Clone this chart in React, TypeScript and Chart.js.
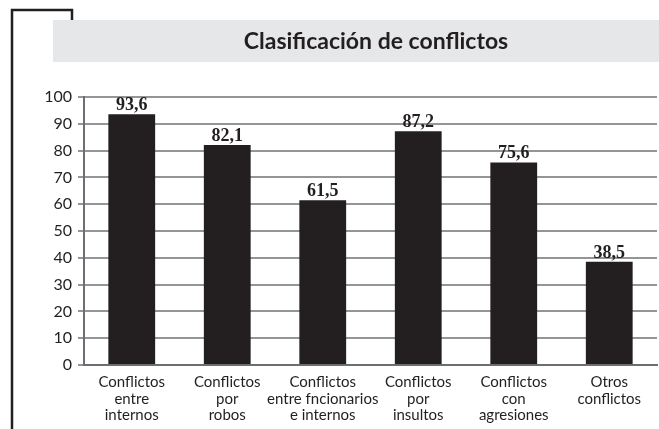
import { useEffect, useRef } from "react";
import { Chart, registerables } from "chart.js";

Chart.register(...registerables);

const titleText = "Clasificación de conflictos";
const categories: string[][] = [
  ["Conflictos", "entre", "internos"],
  ["Conflictos", "por", "robos"],
  ["Conflictos", "entre fncionarios", "e internos"],
  ["Conflictos", "por", "insultos"],
  ["Conflictos", "con", "agresiones"],
  ["Otros", "conflictos"],
];
const values = [93.6, 82.1, 61.5, 87.2, 75.6, 38.5];
const valueLabels = ["93,6", "82,1", "61,5", "87,2", "75,6", "38,5"];
const yMin = 0;
const yMax = 100;
const yStep = 10;

const INK = "#231f20";
const SANS = "Lato, 'Open Sans', sans-serif";

const framePlugin = {
  id: "frameTitle",
  beforeDraw(chart: any) {
    const ctx = chart.ctx;
    ctx.save();
    ctx.fillStyle = "#ffffff";
    ctx.fillRect(0, 0, chart.width, chart.height);
    // gray title band
    ctx.fillStyle = "#e6e7e8";
    ctx.fillRect(53, 20, chart.width - 53, 42);
    // black frame bracket
    ctx.strokeStyle = INK;
    ctx.lineWidth = 2.5;
    ctx.beginPath();
    ctx.moveTo(12, chart.height);
    ctx.lineTo(12, 10);
    ctx.lineTo(72, 10);
    ctx.lineTo(72, 20);
    ctx.stroke();
    // title
    ctx.fillStyle = INK;
    ctx.font = `bold 23px ${SANS}`;
    ctx.textAlign = "center";
    ctx.textBaseline = "middle";
    ctx.fillText(titleText, 376, 42);
    ctx.restore();
  },
  afterDatasetsDraw(chart: any) {
    const ctx = chart.ctx;
    const meta = chart.getDatasetMeta(0);
    ctx.save();
    ctx.fillStyle = INK;
    ctx.font = "bold 18px 'Liberation Serif', serif";
    ctx.textAlign = "center";
    ctx.textBaseline = "alphabetic";
    meta.data.forEach((bar: any, i: number) => {
      ctx.fillText(valueLabels[i], bar.x, bar.y - 4);
    });
    ctx.restore();
  },
};

export default function App() {
  const ref = useRef<HTMLCanvasElement | null>(null);
  useEffect(() => {
    if (!ref.current) return;
    const chart = new Chart(ref.current, {
      type: "bar",
      data: {
        labels: categories,
        datasets: [
          {
            data: values,
            backgroundColor: INK,
            borderWidth: 0,
            barPercentage: 0.49,
            categoryPercentage: 1,
          },
        ],
      },
      options: {
        animation: false,
        responsive: false,
        maintainAspectRatio: false,
        layout: { padding: { top: 97, right: 2, left: 0, bottom: 0 } },
        plugins: {
          legend: { display: false },
          title: { display: false },
          tooltip: { enabled: false },
        },
        scales: {
          x: {
            grid: { display: false, drawTicks: false },
            border: { display: true, color: "#6d6e71", width: 2 },
            ticks: {
              color: INK,
              font: { family: SANS, size: 15, lineHeight: 1.1 },
              padding: 9,
              maxRotation: 0,
              autoSkip: false,
            },
            afterFit(scale: any) {
              scale.height = 64;
            },
          },
          y: {
            min: yMin,
            max: yMax,
            grid: {
              color: "#939598",
              lineWidth: 2,
              drawTicks: true,
              tickLength: 6,
            },
            border: { display: true, color: "#6d6e71", width: 2 },
            ticks: {
              stepSize: yStep,
              color: INK,
              font: { family: SANS, size: 16 },
              padding: 6,
            },
            afterFit(scale: any) {
              scale.width = 84;
            },
          },
        },
      },
      plugins: [framePlugin],
    });
    return () => chart.destroy();
  }, []);
  return (
    <div style={{ position: "absolute", left: 0, top: 0, width: 659, height: 429 }}>
      <canvas ref={ref} width={659} height={429} style={{ display: "block" }} />
    </div>
  );
}
